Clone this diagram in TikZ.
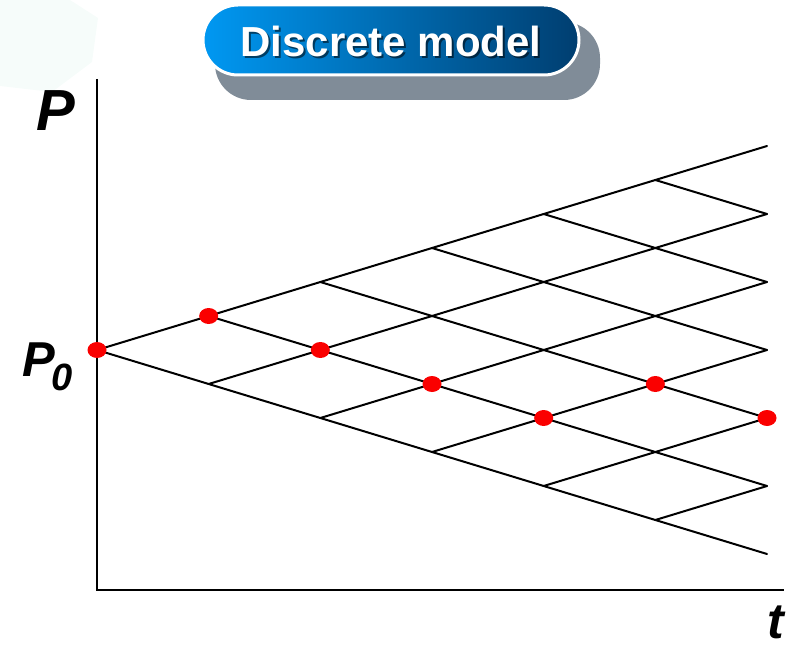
\documentclass[tikz,border=0pt]{standalone}
\usepackage{fontspec}
\setmainfont{Liberation Sans}
\definecolor{lightblue}{RGB}{0,152,242}
\definecolor{darkblue}{RGB}{0,62,112}
\definecolor{shadowgray}{RGB}{128,140,152}
\definecolor{wm}{RGB}{246,252,250}
\definecolor{dotred}{RGB}{250,0,0}
\tikzset{
  axisline/.style={line width=2.6pt, black},
  lattice/.style={line width=2pt, black, line cap=round},
  reddot/.style={fill=dotred, draw=none},
  biglabel/.style={inner sep=0pt, font=\bfseries\itshape},
}
\begin{document}
\begin{tikzpicture}[x=1pt,y=-1pt]
\useasboundingbox (0,0) rectangle (797,647);
% faint watermark
\fill[wm] (0,0) -- (70,0) -- (98,18) -- (92,62) -- (52,92) -- (0,86) -- cycle;
% title box
\fill[shadowgray, rounded corners=36pt] (215,22) rectangle (600,100);
\shade[left color=lightblue, right color=darkblue, rounded corners=35pt] (203,5) rectangle (579,75);
\draw[white, line width=3pt, rounded corners=35pt] (203,5) rectangle (579,75);
\node[inner sep=0pt, text=black, opacity=0.55] (titleshadow) at (393,43) {\fontsize{42}{42}\selectfont\bfseries Discrete model};
\node[inner sep=0pt, text=white] (title) at (391,41) {\fontsize{42}{42}\selectfont\bfseries Discrete model};
% axes
\coordinate (ytop) at (97,79);
\coordinate (orig) at (97,590);
\coordinate (xend) at (784,590);
\draw[axisline] (ytop) -- (orig) -- (xend);
% labels
\node[biglabel] (Plab) at (56,111) {\fontsize{58}{58}\selectfont P};
\node[biglabel] (P0lab) at (39,360) {\fontsize{49}{49}\selectfont P};
\node[biglabel] (P0sub) at (62,377) {\fontsize{38}{38}\selectfont 0};
\node[biglabel] (tlab) at (776,622) {\fontsize{50}{50}\selectfont t};
% lattice nodes
\foreach \i in {0,...,6}{
  \foreach \k in {0,...,\i}{
    \coordinate (n\i-\k) at ({97+111.67*\i},{350-34*(2*\k-\i)});
  }
}
% lattice edges
\foreach \i in {0,...,5}{
  \pgfmathtruncatemacro{\ni}{\i+1}
  \foreach \k in {0,...,\i}{
    \pgfmathtruncatemacro{\nk}{\k+1}
    \draw[lattice] (n\i-\k) -- (n\ni-\k);
    \draw[lattice] (n\i-\k) -- (n\ni-\nk);
  }
}
% red path dots
\foreach \p in {0-0,1-1,2-1,3-1,4-1,5-2,6-2}{
  \fill[reddot] (n\p) ellipse [x radius=9.5, y radius=8];
}
\end{tikzpicture}
\end{document}
